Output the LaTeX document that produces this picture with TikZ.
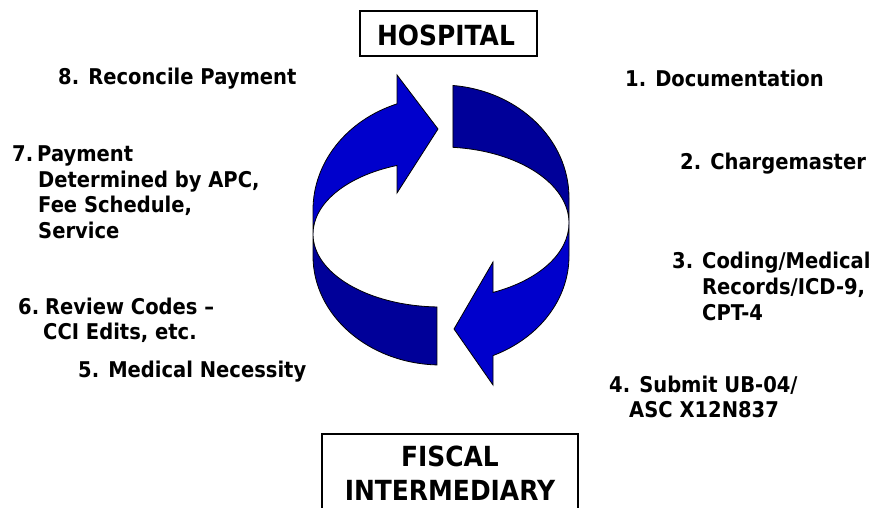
\documentclass[tikz,border=0pt]{standalone}
\usepackage{fontspec}
\newfontfamily\lblfont[FakeStretch=0.9]{DejaVu Sans Bold}
\definecolor{ribbonlight}{RGB}{0,0,204}
\definecolor{ribbondark}{RGB}{0,0,153}
\begin{document}
\begin{tikzpicture}[x=1pt,y=1pt,
  lbl/.style={font=\lblfont\fontsize{21.7}{26}\selectfont, inner sep=0pt, anchor=base west},
  title/.style={font=\lblfont\fontsize{27.7}{34}\selectfont, inner sep=0pt, anchor=base},
  framebox/.style={draw=black, line width=1.6pt, inner sep=0pt},
  lightpart/.style={fill=ribbonlight, draw=black, line width=0.8pt, line join=miter},
  darkpart/.style={fill=ribbondark, draw=black, line width=0.8pt, line join=miter}]
\fill[white] (0,0) rectangle (878,508);
\useasboundingbox (0,0) rectangle (878,508);

% right-hand ribbon arrow: back face (top right)
\path[darkpart] ([shift={(84.63:128 and 113)}]441,310)
  arc[start angle=84.63, end angle=0, x radius=128, y radius=113]
  -- (569,285)
  arc[start angle=0, end angle=84.63, x radius=128, y radius=76] -- cycle;
% right-hand ribbon arrow: front face with head
\path[lightpart] (569,285)
  arc[start angle=0, end angle=-66.03, x radius=128, y radius=76]
  -- (493,246) -- (454,179) -- (493,123)
  -- ([shift={(-66.03:128 and 109)}]441,252)
  arc[start angle=-66.03, end angle=0, x radius=128, y radius=109]
  -- cycle;

% left-hand ribbon arrow: back face (bottom left)
\path[darkpart] ([shift={(268.2:128 and 109)}]441,252)
  arc[start angle=268.2, end angle=180, x radius=128, y radius=109]
  -- (313,274)
  arc[start angle=180, end angle=268.2, x radius=128, y radius=73] -- cycle;
% left-hand ribbon arrow: front face with head
\path[lightpart] (313,274) -- (313,298)
  arc[start angle=180, end angle=110.1, x radius=128, y radius=113]
  -- (397,433) -- (438,379) -- (397,315)
  -- ([shift={(110.1:128 and 73)}]441,274)
  arc[start angle=110.1, end angle=180, x radius=128, y radius=73]
  -- cycle;

% boxed headings
\node[framebox, minimum width=177pt, minimum height=45pt] (hospbox) at (448.5,474.5) {};
\node[title] (hosp) at (446,462) {HOSPITAL};
\node[framebox, minimum width=256pt, minimum height=100pt, anchor=north] (fibox) at (450,75) {};
\node[title] (fisc) at (450,41) {FISCAL};
\node[title] (inter) at (450,7) {INTERMEDIARY};

% steps, right side
\node[lbl] (s1) at (625,421) {1. Documentation};
\node[lbl] (s2) at (680,338) {2. Chargemaster};
\node[lbl] (s3n) at (672,239) {3.};
\node[lbl] (s3a) at (702,239) {Coding/Medical};
\node[lbl] (s3b) at (702,213) {Records/ICD-9,};
\node[lbl] (s3c) at (702,187) {CPT-4};
\node[lbl] (s4a) at (609,115) {4. Submit UB-04/};
\node[lbl] (s4b) at (629,90) {ASC X12N837};

% steps, left side
\node[lbl] (s5) at (78,130) {5. Medical Necessity};
\node[lbl] (s6n) at (18,193) {6.};
\node[lbl] (s6a) at (45,193) {Review Codes –};
\node[lbl] (s6b) at (43,168) {CCI Edits, etc.};
\node[lbl] (s7n) at (12,346) {7.};
\node[lbl] (s7a) at (37,346) {Payment};
\node[lbl] (s7b) at (38,320) {Determined by APC,};
\node[lbl] (s7c) at (38,295) {Fee Schedule,};
\node[lbl] (s7d) at (38,269) {Service};
\node[lbl] (s8) at (58,423) {8. Reconcile Payment};
\end{tikzpicture}
\end{document}
